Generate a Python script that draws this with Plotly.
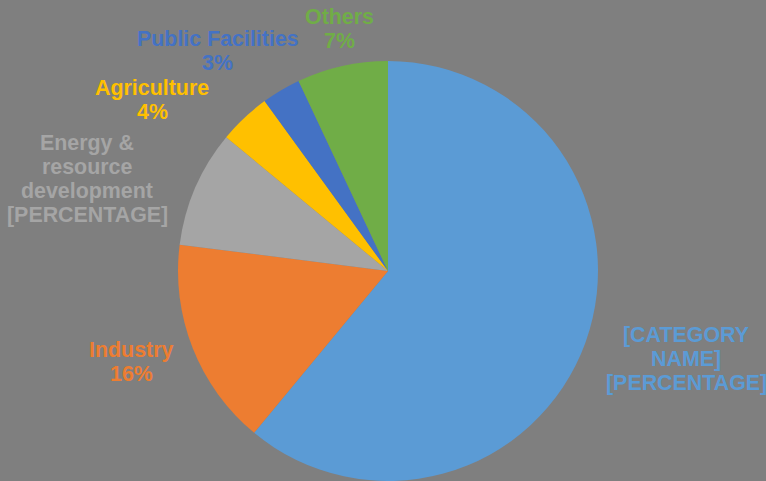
import plotly.graph_objects as go

W, H = 766, 481

categories = ["Residential", "Industry", "Energy & resource development",
              "Agriculture", "Public Facilities", "Others"]
values = [61, 16, 9, 4, 3, 7]
colors = ["#5B9BD5", "#ED7D31", "#A5A5A5", "#FFC000", "#4472C4", "#70AD47"]

# label text lines as shown in the chart
label_lines = [
    ["[CATEGORY", "NAME]", "[PERCENTAGE]"],
    ["Industry", "16%"],
    ["Energy &", "resource", "development", "[PERCENTAGE]"],
    ["Agriculture", "4%"],
    ["Public Facilities", "3%"],
    ["Others", "7%"],
]
# label anchor (centre x, first line centre y) in pixels
label_pos = [(686, 335), (131, 350), (87, 143), (152, 88), (218, 39), (339, 17)]
LINE_STEP = 24

BG = "#7F7F7F"

fig = go.Figure()
fig.add_trace(go.Pie(
    labels=categories,
    values=values,
    marker=dict(colors=colors, line=dict(width=0)),
    sort=False,
    direction="clockwise",
    rotation=0,
    textinfo="none",
    hoverinfo="label+percent",
    showlegend=False,
    domain=dict(x=[177 / W, 599 / W], y=[0, 1 - 61 / H]),
))

annotations = []
for lines, (cx, cy), col in zip(label_lines, label_pos, colors):
    for i, line in enumerate(lines):
        annotations.append(dict(
            text=line,
            x=cx / W, y=1 - (cy + i * LINE_STEP) / H,
            xref="paper", yref="paper",
            xanchor="center", yanchor="middle",
            showarrow=False,
            font=dict(family="Liberation Sans, Arial, sans-serif", size=21.4,
                      color=col, weight="bold"),
        ))

fig.update_layout(
    width=W, height=H,
    margin=dict(l=0, r=0, t=0, b=0),
    paper_bgcolor=BG,
    plot_bgcolor=BG,
    annotations=annotations,
)

fig.write_html("out.html",
               config={"displayModeBar": False},
               post_script="document.body.style.margin='0';"
                           "document.body.style.background='" + BG + "';")
